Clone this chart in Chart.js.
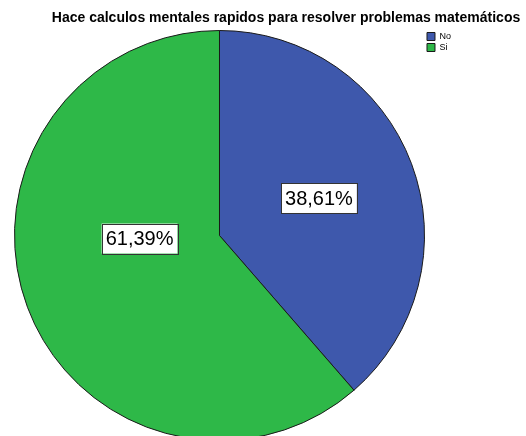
<!DOCTYPE html>
<html>
<head>
<meta charset="utf-8">
<script src="https://cdn.jsdelivr.net/npm/chart.js@4/dist/chart.umd.min.js"></script>
<style>
  body { margin: 0; overflow: hidden; background: #fff; }
  canvas { display: block; }
</style>
</head>
<body>
<canvas id="calculos-pie" width="526" height="470"></canvas>
<script>
const chartTitle = "Hace calculos mentales rapidos para resolver problemas matemáticos";
const categories = ["No", "Si"];
const percents = [38.61, 61.39];
const colors = ["#3E58AC", "#2EB848"];

const fontFamily = "'Liberation Sans', Arial, sans-serif";

// title drawn by hand so it can sit over the legend column
const titlePlugin = {
	id: "topTitle",
	afterDraw(chart) {
		const ctx = chart.ctx;
		ctx.save();
		ctx.font = "bold 14px " + fontFamily;
		ctx.fillStyle = "#000";
		ctx.textAlign = "center";
		ctx.textBaseline = "middle";
		ctx.fillText(chartTitle, 286, 18.5);
		ctx.restore();
	}
};

// boxed percentage labels, placed relative to each slice's center and radius
const percentLabels = {
	id: "percentLabels",
	afterDatasetsDraw(chart, args, opts) {
		const ctx = chart.ctx;
		const arcs = chart.getDatasetMeta(0).data;
		ctx.save();
		ctx.font = "20px " + fontFamily;
		ctx.textAlign = "center";
		ctx.textBaseline = "middle";
		arcs.forEach((arc, i) => {
			const text = percents[i].toFixed(2).replace(".", ",") + "%";
			const pos = opts.offsets[i];
			const x = arc.x + pos[0] * arc.outerRadius;
			const y = arc.y + pos[1] * arc.outerRadius;
			const w = ctx.measureText(text).width + 8;
			const h = 30;
			ctx.fillStyle = "#fff";
			ctx.fillRect(x - w / 2, y - h / 2, w, h);
			ctx.strokeStyle = "#333";
			ctx.lineWidth = 1;
			ctx.strokeRect(Math.round(x - w / 2) + 0.5, Math.round(y - h / 2) + 0.5, Math.round(w), h);
			ctx.fillStyle = "#000";
			ctx.fillText(text, x, y + 1);
		});
		ctx.restore();
	}
};

var ctx = document.getElementById("calculos-pie");
var pieChart = new Chart(ctx, {
	type: "pie",
	data: {
		labels: categories,
		datasets: [{
			data: percents,
			backgroundColor: colors,
			borderColor: "#1a1a1a",
			borderWidth: 1
		}]
	},
	options: {
		responsive: false,
		animation: false,
		layout: {
			padding: { top: 30, left: 14, right: 65, bottom: 29 }
		},
		plugins: {
			title: { display: false },
			tooltip: { enabled: false },
			legend: {
				position: "right",
				align: "start",
				fullSize: false,
				labels: {
					boxWidth: 8,
					boxHeight: 8,
					padding: 2,
					color: "#000",
					font: { size: 9, family: fontFamily }
				}
			},
			percentLabels: {
				offsets: [[0.485, -0.183], [-0.39, 0.015]]
			}
		}
	},
	plugins: [titlePlugin, percentLabels]
});
</script>
</body>
</html>
